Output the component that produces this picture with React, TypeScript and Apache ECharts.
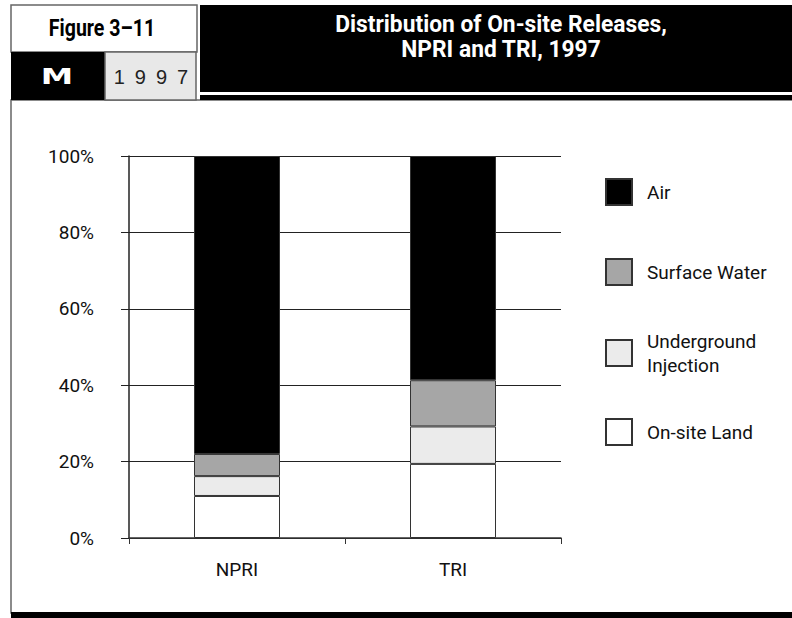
import React, { useEffect, useRef } from "react";
import * as echarts from "echarts";

const categories = ["NPRI", "TRI"];
const seriesNames = ["On-site Land", "Underground Injection", "Surface Water", "Air"];
const onsiteLand = [11.0, 19.4];
const undergroundInjection = [5.2, 9.8];
const surfaceWater = [5.8, 12.1];
const air = [78.0, 58.7];
const legendLabels = ["Air", "Surface Water", "Underground\nInjection", "On-site Land"];
const legendOrder = ["Air", "Surface Water", "Underground Injection", "On-site Land"];
const yTicks = [0, 20, 40, 60, 80, 100];

const FONT = "Roboto, 'Liberation Sans', sans-serif";
const colors: Record<string, string> = {
  "On-site Land": "#ffffff",
  "Underground Injection": "#ebebeb",
  "Surface Water": "#a6a6a6",
  Air: "#000000",
};

export default function App() {
  const ref = useRef<HTMLDivElement>(null);
  useEffect(() => {
    if (!ref.current) return;
    const chart = echarts.init(ref.current, null, { renderer: "svg" });
    const values = [onsiteLand, undergroundInjection, surfaceWater, air];
    const legendTops = [178, 258, 329, 418];
    const option: any = {
      animation: false,
      backgroundColor: "#ffffff",
      grid: { left: 129, top: 156, width: 432, height: 382, containLabel: false },
      xAxis: {
        type: "category",
        data: categories,
        boundaryGap: true,
        axisLine: { lineStyle: { color: "#333", width: 1.5 } },
        axisTick: { show: true, length: 6, lineStyle: { color: "#333" } },
        axisLabel: { margin: 22, fontFamily: FONT, fontSize: 19, color: "#111" },
      },
      yAxis: {
        type: "value",
        min: yTicks[0],
        max: yTicks[yTicks.length - 1],
        interval: 20,
        axisLine: { show: true, lineStyle: { color: "#222", width: 1.5 } },
        axisTick: { show: true, length: 8, lineStyle: { color: "#222" } },
        axisLabel: {
          formatter: "{value}%",
          margin: 35,
          fontFamily: FONT,
          fontSize: 19,
          color: "#111",
          padding: [11, 0, 0, 0],
        },
        splitLine: { show: true, lineStyle: { color: "#222", width: 1.2 } },
      },
      legend: legendOrder.map((name, i) => ({
        data: [name],
        orient: "vertical",
        left: 605,
        top: legendTops[i],
        padding: 0,
        itemWidth: 26,
        itemHeight: 26,
        icon: "rect",
        selectedMode: false,
        formatter: () => legendLabels[i],
        textStyle: { fontFamily: FONT, fontSize: 19, color: "#111", lineHeight: 24, padding: [0, 0, 0, 10] },
      })),
      series: seriesNames.map((name, i) => ({
        name,
        type: "bar",
        stack: "total",
        barWidth: 86,
        data: values[i],
        itemStyle: { color: colors[name], borderColor: "#333", borderWidth: 1 },
        emphasis: { disabled: true },
      })),
      graphic: [
        { type: "rect", shape: { x: 11, y: 100, width: 790, height: 513 }, style: { fill: "none", stroke: "#666", lineWidth: 1.5 }, silent: true },
        { type: "rect", shape: { x: 11, y: 612, width: 781, height: 6 }, style: { fill: "#000" }, silent: true },
        { type: "rect", shape: { x: 11, y: 5, width: 186, height: 47 }, style: { fill: "#fff", stroke: "#666", lineWidth: 1.5 }, silent: true },
        { type: "rect", shape: { x: 11, y: 52, width: 94, height: 48 }, style: { fill: "#000" }, silent: true },
        { type: "rect", shape: { x: 105, y: 52, width: 91, height: 48 }, style: { fill: "#e8e8e8", stroke: "#666", lineWidth: 1.5 }, silent: true },
        { type: "rect", shape: { x: 200, y: 5, width: 592, height: 87 }, style: { fill: "#000" }, silent: true },
        { type: "rect", shape: { x: 200, y: 95, width: 592, height: 5 }, style: { fill: "#000" }, silent: true },
        {
          type: "text", x: 102, y: 28, scaleX: 0.85,
          style: { text: "Figure 3–11", fontFamily: FONT, fontWeight: "bold", fontSize: 23, fill: "#000", textAlign: "center", textVerticalAlign: "middle" },
          silent: true,
        },
        {
          type: "text", x: 57, y: 77, scaleX: 1.55,
          style: { text: "M", fontFamily: "'DejaVu Sans', sans-serif", fontWeight: "bold", fontSize: 21, fill: "#fff", textAlign: "center", textVerticalAlign: "middle" },
          silent: true,
        },
        {
          type: "text", x: 151, y: 77,
          style: { text: "1\u20029\u20029\u20027", fontFamily: "'Liberation Sans', Arial, sans-serif", fontSize: 20, fill: "#222", textAlign: "center", textVerticalAlign: "middle" },
          silent: true,
        },
        {
          type: "text", x: 501, y: 36, scaleX: 0.95,
          style: { text: "Distribution of On-site Releases,\nNPRI and TRI, 1997", fontFamily: FONT, fontWeight: "bold", fontSize: 24, lineHeight: 25, fill: "#fff", textAlign: "center", textVerticalAlign: "middle" },
          silent: true,
        },
      ],
    };
    chart.setOption(option);
    return () => chart.dispose();
  }, []);
  return <div ref={ref} style={{ position: "fixed", left: 0, top: 0, width: 792, height: 618 }} />;
}
